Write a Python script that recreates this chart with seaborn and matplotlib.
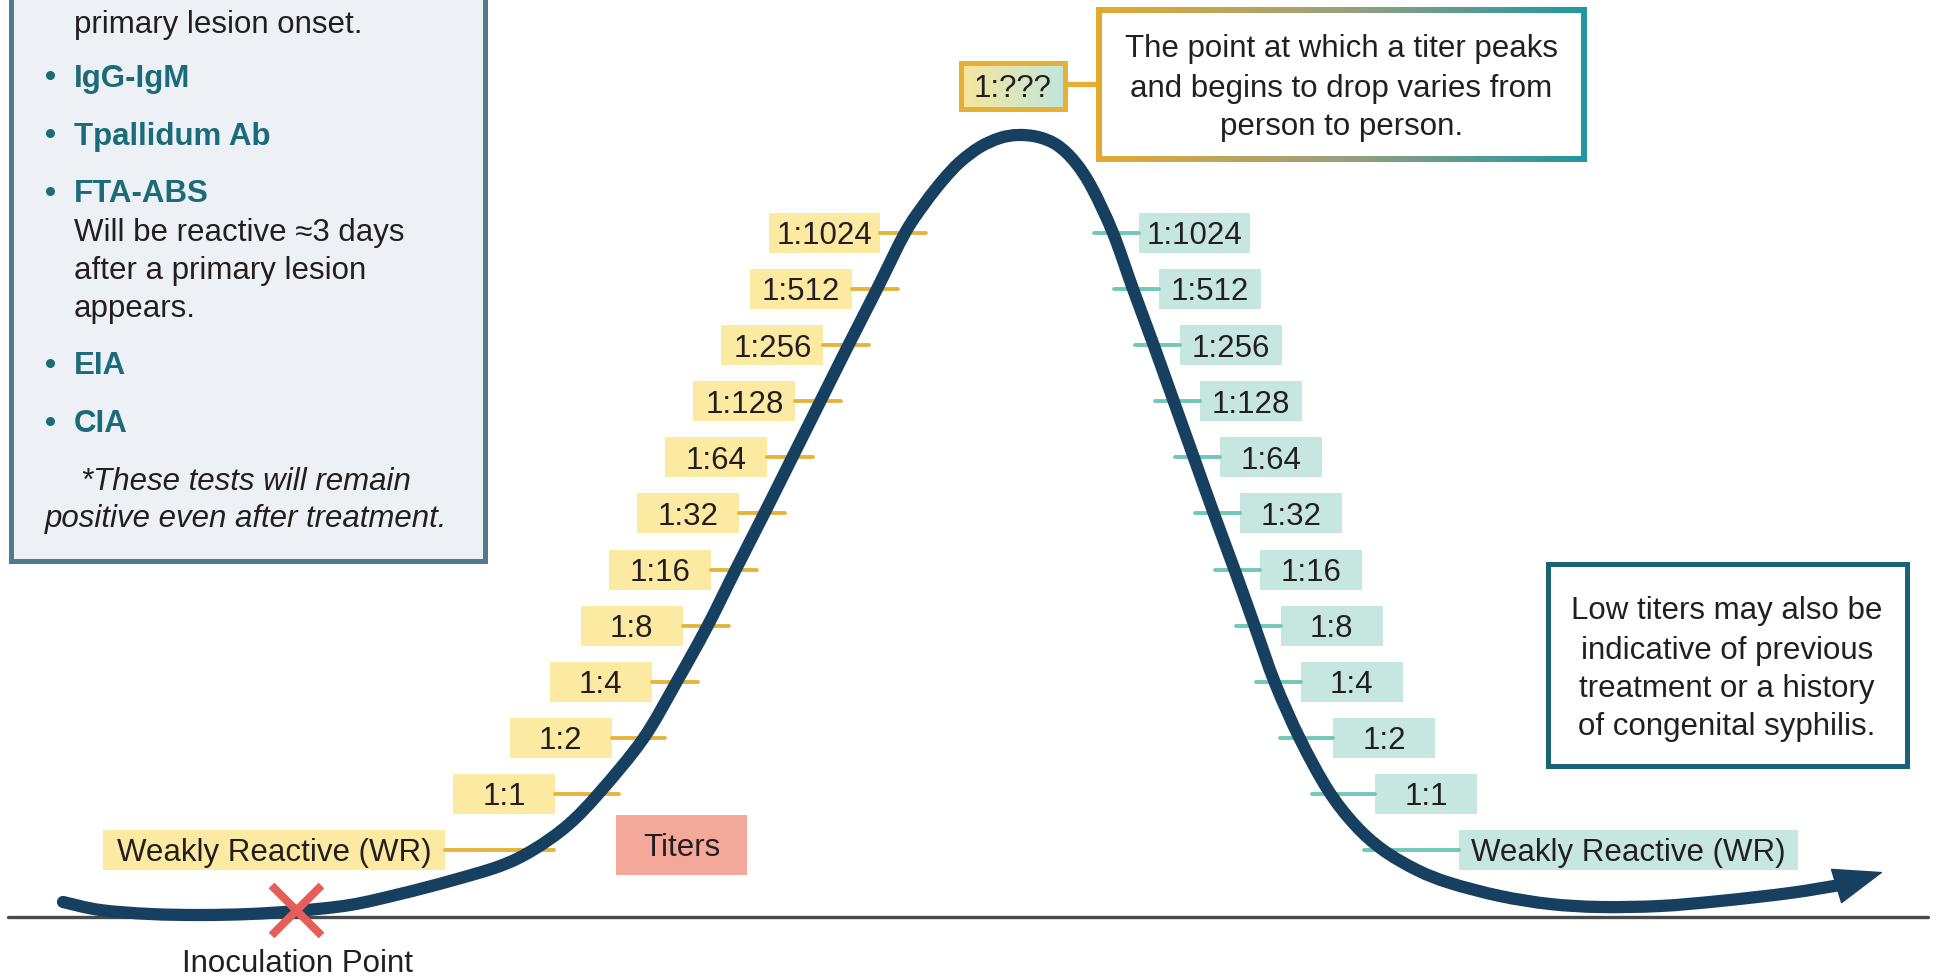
import numpy as np
import matplotlib
matplotlib.use("Agg")
import matplotlib.pyplot as plt
from matplotlib.patches import Rectangle, PathPatch
from matplotlib.path import Path
from matplotlib.colors import LinearSegmentedColormap
from matplotlib.markers import MarkerStyle
import seaborn as sns

# ---------------- data ----------------
titer_labels = ["Weakly Reactive (WR)", "1:1", "1:2", "1:4", "1:8", "1:16",
                "1:32", "1:64", "1:128", "1:256", "1:512", "1:1024"]
titer_level = list(range(len(titer_labels)))          # WR = 0 ... 1:1024 = 11
peak_label = "1:???"

# antibody-titer curve (time, height)
curve_x = [63, 100, 150, 200, 250, 296, 350, 400, 450, 500, 533, 568, 600, 643,
           676, 707, 735, 764, 792, 820, 848, 877, 905, 925, 943, 960, 980,
           1000, 1018, 1038, 1057, 1075, 1092, 1113, 1133, 1154, 1174, 1194, 1214,
           1235, 1255, 1275, 1300, 1328, 1355, 1383, 1417, 1450, 1500, 1550, 1600,
           1660, 1720, 1790, 1840]
curve_y = [902, 910, 914, 915, 914, 911, 905, 894, 881, 866, 850, 825, 792, 739,
           683, 627, 571, 514, 458, 402, 346, 289, 233, 203, 180, 162, 147,
           138, 135, 137, 145, 162, 188, 233, 289, 346, 402, 458, 514,
           571, 627, 683, 739, 790, 825, 850, 870, 883, 896, 904, 907,
           906, 901, 893, 885]
arrow_tip = (1883, 872)

inoculation_x = [296]
inoculation_y = [910]
inoculation_label = "Inoculation Point"

left_box_intro = "primary lesion onset."
bullet_items = ["IgG-IgM", "Tpallidum Ab", "FTA-ABS", "EIA", "CIA"]
fta_note = ["Will be reactive \u22483 days", "after a primary lesion", "appears."]
footnote = ["*These tests will remain", "positive even after treatment."]
peak_note = ["The point at which a titer peaks", "and begins to drop varies from",
             "person to person."]
low_note = ["Low titers may also be", "indicative of previous",
            "treatment or a history", "of congenital syphilis."]
titers_tag = "Titers"

# ---------------- style ----------------
sns.set_theme(style="white")
plt.rcParams["font.family"] = ["Liberation Sans", "DejaVu Sans"]

FS = 22.5
TXT = "#231F20"
NAVY = "#173F5F"
YEL_FILL = "#FCE9A2"
YEL_TICK = "#E6B43C"
TEAL_FILL = "#C6E7DF"
TEAL_TICK = "#70C9B8"
BULLET = "#1B6B7B"
GOLD = "#E5AA2E"
TEAL_DARK = "#1F97A3"

fig = plt.figure(figsize=(19.37, 9.76), dpi=100)
ax = fig.add_axes([0, 0, 1, 1])


def frame():
    ax.set_xlim(0, 1937)
    ax.set_ylim(976, 0)
    ax.axis("off")


frame()

# baseline
ax.plot([8, 1928], [917, 917], color="#4A4A4A", lw=2.4, zorder=1)

# ---------------- left info box ----------------
ax.add_patch(Rectangle((10.5, -20), 474.5, 581, facecolor="#EDF1F5",
                       edgecolor="#4F7B8F", lw=3.6, zorder=2))
ax.text(74, 21, left_box_intro, fontsize=FS, color=TXT, va="center_baseline", zorder=3)
bullet_y = [75, 133, 190, 363, 421]
for name, yy in zip(bullet_items, bullet_y):
    ax.text(50, yy, "\u2022", fontsize=FS, color=BULLET, fontweight="bold",
            ha="center", va="center_baseline", zorder=3)
    ax.text(74, yy, name, fontsize=FS, color=BULLET, fontweight="bold",
            va="center_baseline", zorder=3)
for line, yy in zip(fta_note, [230, 267, 305]):
    ax.text(74, yy, line, fontsize=FS, color=TXT, va="center_baseline", zorder=3)
for line, yy in zip(footnote, [478, 516]):
    ax.text(246, yy, line, fontsize=FS, color=TXT, style="italic", ha="center",
            va="center_baseline", zorder=3)

# ---------------- curve (smooth path through the read points) ----------------
pts = np.column_stack([curve_x, curve_y]).astype(float)
ext = np.vstack([pts[0], pts, pts[-1]])
verts = [tuple(pts[0])]
codes = [Path.MOVETO]
for i in range(len(pts) - 1):
    p0, p1, p2, p3 = ext[i], ext[i + 1], ext[i + 2], ext[i + 3]
    c1 = p1 + (p2 - p0) / 6.0
    c2 = p2 - (p3 - p1) / 6.0
    verts += [tuple(c1), tuple(c2), tuple(p2)]
    codes += [Path.CURVE4] * 3
ax.add_patch(PathPatch(Path(verts, codes), facecolor="none", edgecolor=NAVY,
                       lw=8.8, capstyle="round", joinstyle="round", zorder=6))
ax.annotate("", xy=arrow_tip, xytext=(curve_x[-1], curve_y[-1]),
            arrowprops=dict(arrowstyle="-|>,head_length=33.5,head_width=12.5",
                            mutation_scale=1, color=NAVY, lw=1,
                            shrinkA=0, shrinkB=0), zorder=6)

# ---------------- titer labels ----------------
cx = np.array(curve_x, float)
cy = np.array(curve_y, float)
ipk = int(np.argmin(cy))
rise = (cx >= 400) & (np.arange(len(cx)) <= ipk)
fall = (cx <= 1450) & (np.arange(len(cx)) >= ipk)
xr, yr = cx[rise], cy[rise]
xf, yf = cx[fall], cy[fall]

left_w = [342] + [102] * 10 + [111]
left_tick = [109, 64, 53] + [46] * 9
right_w = [339] + [102] * 10 + [111]
right_tick = [95, 63, 53] + [45] * 9
BH = 40

for lvl, lab in zip(titer_level, titer_labels):
    yy = 850 - 56.1 * lvl
    c_left = np.interp(yy, yr[::-1], xr[::-1])
    c_right = np.interp(yy, yf, xf)
    # left (rising) side
    t_end = c_left + 21
    b_right = t_end - left_tick[lvl]
    ax.plot([b_right, t_end], [yy, yy], color=YEL_TICK, lw=2.8,
            solid_capstyle="round", zorder=4)
    ax.add_patch(Rectangle((b_right - left_w[lvl], yy - BH / 2), left_w[lvl], BH,
                           facecolor=YEL_FILL, edgecolor="none", zorder=3))
    ax.text(b_right - left_w[lvl] / 2, yy, lab, fontsize=FS, color=TXT,
            ha="center", va="center_baseline", zorder=5)
    # right (falling) side
    t_start = c_right - 19
    b_left = t_start + right_tick[lvl]
    ax.plot([t_start, b_left], [yy, yy], color=TEAL_TICK, lw=2.8,
            solid_capstyle="round", zorder=4)
    ax.add_patch(Rectangle((b_left, yy - BH / 2), right_w[lvl], BH,
                           facecolor=TEAL_FILL, edgecolor="none", zorder=3))
    ax.text(b_left + right_w[lvl] / 2, yy, lab, fontsize=FS, color=TXT,
            ha="center", va="center_baseline", zorder=5)

# ---------------- peak tag + callout ----------------
grad = np.linspace(0, 1, 256).reshape(1, -1)
cm_fill = LinearSegmentedColormap.from_list("f", ["#F8E79B", "#BFE6DC"])
cm_edge = LinearSegmentedColormap.from_list("e", [GOLD, "#9AA07C", TEAL_DARK])
ax.imshow(grad, cmap=cm_fill, extent=(960.5, 1064.5, 108.5, 62.5), aspect="auto",
          zorder=3)
ax.add_patch(Rectangle((960.5, 62.5), 104, 46, facecolor="none", edgecolor="#E6B038",
                       lw=3.6, zorder=4))
ax.text(1012.5, 85.5, peak_label, fontsize=FS, color=TXT, ha="center",
        va="center_baseline", zorder=5)
ax.plot([1066, 1098], [84, 84], color="#E6B038", lw=3.8, zorder=3)

ax.imshow(grad, cmap=cm_edge, extent=(1096, 1587, 162, 7), aspect="auto", zorder=3)
ax.add_patch(Rectangle((1102, 13), 479, 143, facecolor="white", edgecolor="none",
                       zorder=4))
for line, yy in zip(peak_note, [46, 85, 123]):
    ax.text(1341.5, yy, line, fontsize=FS, color=TXT, ha="center",
            va="center_baseline", zorder=5)

# ---------------- low titers note ----------------
ax.add_patch(Rectangle((1547.5, 563.5), 359, 202, facecolor="white",
                       edgecolor="#1B6274", lw=3.6, zorder=3))
for line, yy in zip(low_note, [608, 647, 685, 723]):
    ax.text(1727, yy, line, fontsize=FS, color=TXT, ha="center",
            va="center_baseline", zorder=5)

# ---------------- titers tag ----------------
ax.add_patch(Rectangle((616, 815), 131, 60, facecolor="#F4A899", edgecolor="none",
                       zorder=3))
ax.text(681.5, 845, titers_tag, fontsize=FS, color=TXT, ha="center",
        va="center_baseline", zorder=5)

# ---------------- inoculation point ----------------
xm = MarkerStyle("x", capstyle="round")
sns.scatterplot(x=inoculation_x, y=inoculation_y, ax=ax, marker=xm, s=36 ** 2,
                color="#E85D57", linewidth=5.8, zorder=8, legend=False)
ax.text(297, 960, inoculation_label, fontsize=FS, color=TXT, ha="center",
        va="center_baseline", zorder=5)

frame()
fig.savefig("out.png", dpi=100, facecolor="white")
